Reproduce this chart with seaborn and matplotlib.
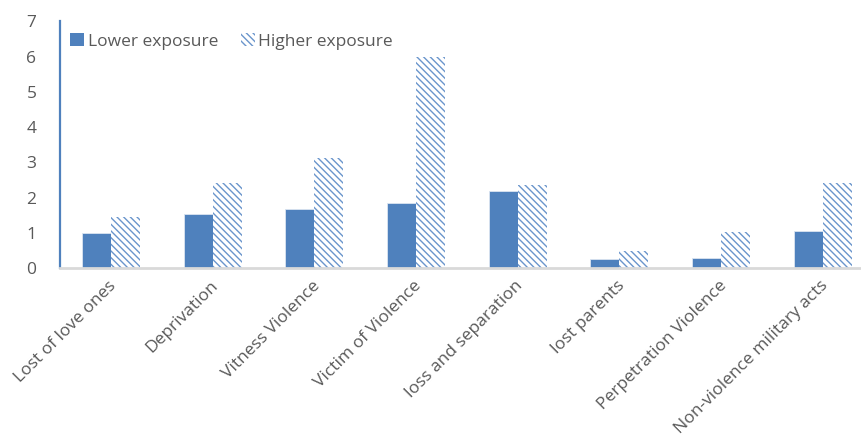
import numpy as np
import pandas as pd
import matplotlib
matplotlib.use('Agg')
import matplotlib.pyplot as plt
import matplotlib.transforms as mtransforms
from matplotlib.patches import Patch
import seaborn as sns

# ========== data ==========
categories = ['Lost of love ones', 'Deprivation', 'Vitness Violence', 'Victim of Violence',
              'loss and separation', 'lost parents', 'Perpetration Violence',
              'Non-violence military acts']
lower_exposure = [0.99, 1.53, 1.67, 1.85, 2.20, 0.26, 0.30, 1.05]
higher_exposure = [1.45, 2.42, 3.13, 5.99, 2.37, 0.49, 1.03, 2.41]
series_names = ['Lower exposure', 'Higher exposure']
y_ticks = [0, 1, 2, 3, 4, 5, 6, 7]

df = pd.DataFrame({
    'category': categories * 2,
    'value': lower_exposure + higher_exposure,
    'group': [series_names[0]] * len(categories) + [series_names[1]] * len(categories),
})

blue = '#4f81bd'
hatch_blue = '#6a95cc'
grey_text = '#595959'
hatch_pat = '\\' * 5

sns.set_style('white')
plt.rcParams['font.family'] = ['Open Sans', 'DejaVu Sans']
plt.rcParams['hatch.linewidth'] = 1.0

fig = plt.figure(figsize=(8.61, 4.43), dpi=100)
ax = fig.add_axes([60 / 861, 174.7 / 443, 813.6 / 861, 246.9 / 443])

sns.barplot(data=df, x='category', y='value', hue='group', order=categories,
            hue_order=series_names, palette=[blue, blue], width=0.57,
            dodge=True, saturation=1, legend=False, ax=ax, errorbar=None)

# second hue level -> hatched bars
n = len(categories)
for i, bar in enumerate(ax.patches[:2 * n]):
    if i >= n:
        bar.set_facecolor('white')
        bar.set_edgecolor(hatch_blue)
        bar.set_linewidth(0)
        bar.set_hatch(hatch_pat)
    else:
        bar.set_edgecolor('#dbe5f1')
        bar.set_linewidth(0.6)

ax.set_xlim(-0.5, 7.5)
ax.set_ylim(0, 7)
ax.set_yticks(y_ticks)
ax.set_xlabel('')
ax.set_ylabel('')
ax.tick_params(axis='both', length=0, colors=grey_text, labelsize=12.5)
ax.tick_params(axis='y', pad=17)
ax.tick_params(axis='x', pad=0)

plt.setp(ax.get_xticklabels(), rotation=45, ha='right', va='center', rotation_mode='anchor')
offset = mtransforms.ScaledTranslation(3 / 100, -15 / 100, fig.dpi_scale_trans)
for lbl in ax.get_xticklabels():
    lbl.set_transform(lbl.get_transform() + offset)

for s in ['top', 'right']:
    ax.spines[s].set_visible(False)
ax.spines['left'].set_color(blue)
ax.spines['left'].set_linewidth(1.6)
ax.spines['bottom'].set_color('#d9d9d9')
ax.spines['bottom'].set_linewidth(2)

handles = [Patch(facecolor=blue, edgecolor=blue, linewidth=0),
           Patch(facecolor='white', edgecolor=hatch_blue, linewidth=0, hatch=hatch_pat)]
ax.legend(handles, series_names, loc='upper left', bbox_to_anchor=(0.0, 0.995),
          ncol=2, frameon=False, fontsize=12.5, labelcolor=grey_text,
          handlelength=0.8, handleheight=0.8, handletextpad=0.2,
          columnspacing=1.3, borderaxespad=0.2)

fig.savefig('out.png', dpi=100)
